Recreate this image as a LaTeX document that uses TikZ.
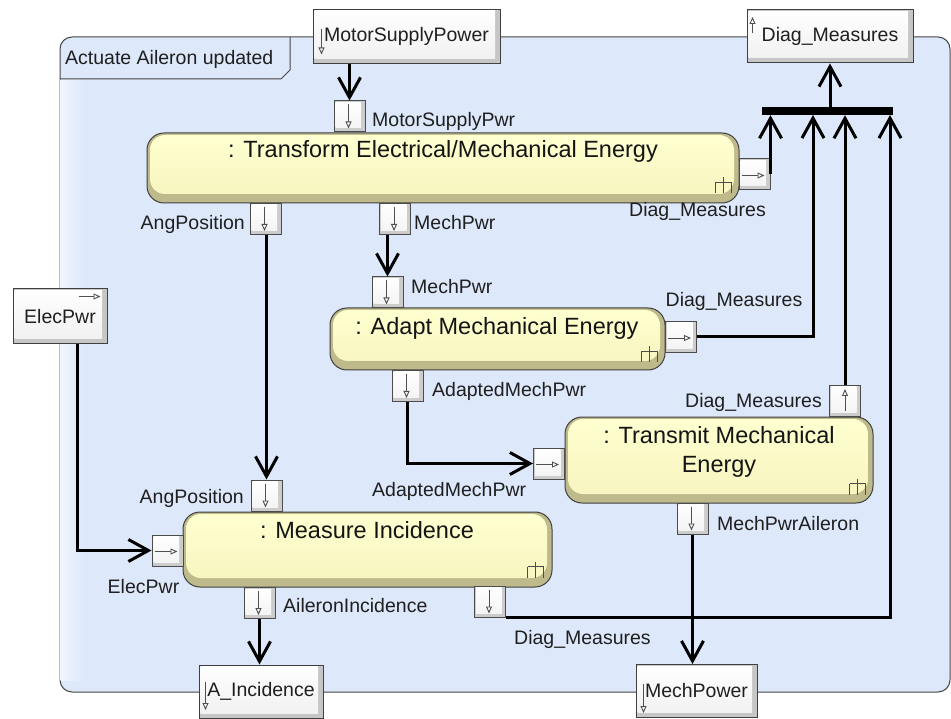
\documentclass[tikz,border=0pt]{standalone}
\usepackage{fontspec}
\setmainfont{Liberation Sans}
\usetikzlibrary{arrows.meta,calc}

\definecolor{framebg}{RGB}{221,232,250}
\definecolor{frameline}{RGB}{70,70,70}
\definecolor{actfill}{RGB}{255,255,208}
\definecolor{actfilldark}{RGB}{246,244,190}
\definecolor{actedge}{RGB}{190,186,140}
\definecolor{glyphcol}{RGB}{80,80,80}

\tikzset{
  lbl/.style={font=\fontsize{19.5}{23}\selectfont, inner sep=0pt, text=black!88},
  acttext/.style={font=\fontsize{23.5}{28}\selectfont, inner sep=0pt, anchor=base, text=black!92},
  flow/.style={line width=3pt, -{Straight Barb[length=20pt,width=22pt]}},
  glyph/.style={draw=glyphcol, line width=0.9pt, -{Triangle[open,length=7pt,width=6pt]}},
  parbox/.style={draw=black!75, line width=1pt, fill=gray!45, inner sep=0pt,
    font=\fontsize{19.5}{23}\selectfont, text=black!88,
    path picture={\shade[top color=white, bottom color=gray!12]
      ([xshift=1.5pt,yshift=-1.5pt]path picture bounding box.north west) rectangle
      ([xshift=-5pt,yshift=5pt]path picture bounding box.south east);}},
  pinbox/.style={draw=black!70, line width=1pt, fill=gray!40, inner sep=0pt,
    minimum width=31pt, minimum height=31pt,
    path picture={\shade[top color=white, bottom color=gray!10]
      ([xshift=1.5pt,yshift=-1.5pt]path picture bounding box.north west) rectangle
      ([xshift=-4pt,yshift=4pt]path picture bounding box.south east);}},
  actbox/.style={draw=black!75, line width=1pt, rounded corners=17pt, fill=actedge, inner sep=0pt,
    path picture={\shade[top color=actfill, bottom color=actfilldark, rounded corners=15pt]
      ([xshift=3pt,yshift=-2pt]path picture bounding box.north west) rectangle
      ([xshift=-5pt,yshift=9pt]path picture bounding box.south east);}},
  joinbar/.style={fill=black, inner sep=0pt, minimum width=131pt, minimum height=8pt},
  rake/.pic={\draw[line width=1pt, black!70] (0,-8)--(0,8) (-8,-3)--(8,-3) (-8,-3)--(-8,8) (8,-3)--(8,8);}
}

\begin{document}
\begin{tikzpicture}[x=1pt,y=-1pt]
\useasboundingbox (0,0) rectangle (951,719);

% activity frame with its name tab
\draw[draw=frameline, line width=1pt, fill=framebg, rounded corners=12pt] (60,37) rectangle (950,692);
\shade[left color=framebg!45, right color=framebg] (60.6,80) rectangle (84,680);
\draw[draw=frameline, line width=1pt] (60,79) -- (281,79) -- (290,70) -- (290,37);
\node[lbl, anchor=base west] (framename) at (65,65) {Actuate Aileron updated};

% activity parameter nodes on the frame border
\node[parbox, minimum width=187pt, minimum height=54pt] (msp) at (406.5,36.5) {MotorSupplyPower};
\node[parbox, minimum width=166pt, minimum height=53pt] (diagTop) at (830,36.5) {Diag\_Measures};
\node[parbox, minimum width=94pt, minimum height=55pt] (elecP) at (60,316.5) {ElecPwr};
\node[parbox, minimum width=124pt, minimum height=53pt] (aInc) at (261,691.5) {A\_Incidence};
\node[parbox, minimum width=121pt, minimum height=53pt] (mechP) at (696.5,691) {MechPower};

\draw[glyph] ([xshift=9pt,yshift=7pt]msp.west) -- ([xshift=9pt,yshift=-18pt]msp.west);
\draw[glyph] ([xshift=6pt,yshift=3.5pt]diagTop.west) -- ([xshift=6pt,yshift=19.5pt]diagTop.west);
\draw[glyph] ([xshift=-29pt,yshift=-8pt]elecP.north east) -- ([xshift=-7pt,yshift=-8pt]elecP.north east);
\draw[glyph] ([xshift=7pt,yshift=9.5pt]aInc.west) -- ([xshift=7pt,yshift=-18.5pt]aInc.west);
\draw[glyph] ([xshift=8pt,yshift=7pt]mechP.west) -- ([xshift=8pt,yshift=-22pt]mechP.west);

% actions
\node[actbox, minimum width=592pt, minimum height=70pt] (tr) at (443,168) {};
\node[actbox, minimum width=335pt, minimum height=62pt] (ad) at (497.5,339) {};
\node[actbox, minimum width=308pt, minimum height=86pt] (tm) at (719,460) {};
\node[actbox, minimum width=369pt, minimum height=75pt] (ms) at (367.5,549.5) {};

\node[acttext] (trT) at (443,158) {: Transform Electrical/Mechanical Energy};
\node[acttext] (adT) at (497,335) {: Adapt Mechanical Energy};
\node[acttext] (tmT1) at (719,443) {: Transmit Mechanical};
\node[acttext] (tmT2) at (719,472) {Energy};
\node[acttext] (msT) at (367,538) {: Measure Incidence};

\pic at ([xshift=-16pt,yshift=18pt]tr.south east) {rake};
\pic at ([xshift=-16pt,yshift=16pt]ad.south east) {rake};
\pic at ([xshift=-16pt,yshift=17pt]tm.south east) {rake};
\pic at ([xshift=-17pt,yshift=18pt]ms.south east) {rake};

% pins
\node[pinbox] (pMSP) at (349.5,116.5) {};
\node[pinbox] (pAngOut) at (265.5,219) {};
\node[pinbox] (pMechOut) at (395,219) {};
\node[pinbox] (pDiag1) at (754.5,174.5) {};
\node[pinbox] (pMechIn) at (387.5,292.5) {};
\node[pinbox] (pDiag2) at (681,337) {};
\node[pinbox] (pAdOut) at (407.5,386) {};
\node[pinbox] (pAdIn) at (549,463.5) {};
\node[pinbox] (pDiag3) at (845,401) {};
\node[pinbox] (pMPA) at (692.5,518.5) {};
\node[pinbox] (pAngIn) at (266.5,495.5) {};
\node[pinbox] (pElecIn) at (167.5,550.5) {};
\node[pinbox] (pAilOut) at (259.5,603) {};
\node[pinbox] (pDiag4) at (490,601.5) {};

% direction marks inside the pins
\foreach \p in {pMSP,pAngOut,pMechOut,pMechIn,pAdOut,pMPA,pAngIn,pAilOut,pDiag4}
  \draw[glyph] ([xshift=-1pt,yshift=-4pt]\p.north) -- ([xshift=-1pt,yshift=4pt]\p.south);
\foreach \p in {pDiag1,pDiag2,pAdIn,pElecIn}
  \draw[glyph] ([xshift=3pt,yshift=-1pt]\p.west) -- ([xshift=-6pt,yshift=-1pt]\p.east);
\draw[glyph] ([yshift=6pt]pDiag3.south) -- ([yshift=-4pt]pDiag3.north);

% pin labels
\node[lbl, anchor=base west] (lMSP) at (372,127) {MotorSupplyPwr};
\node[lbl, anchor=base east] (lAngOut) at (245,230) {AngPosition};
\node[lbl, anchor=base west] (lMechOut) at (414,230) {MechPwr};
\node[lbl, anchor=base] (lDiag1) at (697.5,217) {Diag\_Measures};
\node[lbl, anchor=base west] (lMechIn) at (411,294) {MechPwr};
\node[lbl, anchor=base] (lDiag2) at (734,307) {Diag\_Measures};
\node[lbl, anchor=base west] (lAdOut) at (432,397) {AdaptedMechPwr};
\node[lbl, anchor=base west] (lAdIn) at (372,496) {AdaptedMechPwr};
\node[lbl, anchor=base east] (lDiag3) at (822,407) {Diag\_Measures};
\node[lbl, anchor=base west] (lMPA) at (717,530) {MechPwrAileron};
\node[lbl, anchor=base east] (lAngIn) at (244,503) {AngPosition};
\node[lbl, anchor=base] (lElecIn) at (143.5,593) {ElecPwr};
\node[lbl, anchor=base west] (lAilOut) at (283,612) {AileronIncidence};
\node[lbl, anchor=base west] (lDiag4) at (514,644) {Diag\_Measures};

% join bar for the diagnostic measures
\node[joinbar] (bar) at (827.5,111) {};
\coordinate (b2) at (813,115);
\coordinate (b4) at (890,115);

% object flows
\draw[flow] (pMSP.north |- msp.south) -- (pMSP.north);
\draw[flow] (pAngIn.north |- pAngOut.south) -- (pAngIn.north);
\draw[flow] (pMechIn.north |- pMechOut.south) -- (pMechIn.north);
\draw[flow] (pAdOut.south) |- (pAdIn.west);
\draw[flow] ([xshift=17pt]elecP.south) |- (pElecIn.west);
\draw[flow] (pAilOut.south) -- (pAilOut.south |- aInc.north);
\draw[flow] (pMPA.south) -- (pMPA.south |- mechP.north);
\draw[flow] (pDiag1.east) -- (pDiag1.east |- bar.south);
\draw[flow] (pDiag2.east) -| (b2);
\draw[flow] (pDiag3.north) -- (pDiag3.north |- bar.south);
\draw[flow] (pDiag4.south east) -| (b4);
\draw[flow] (diagTop.south |- bar.north) -- (diagTop.south);
\end{tikzpicture}
\end{document}
